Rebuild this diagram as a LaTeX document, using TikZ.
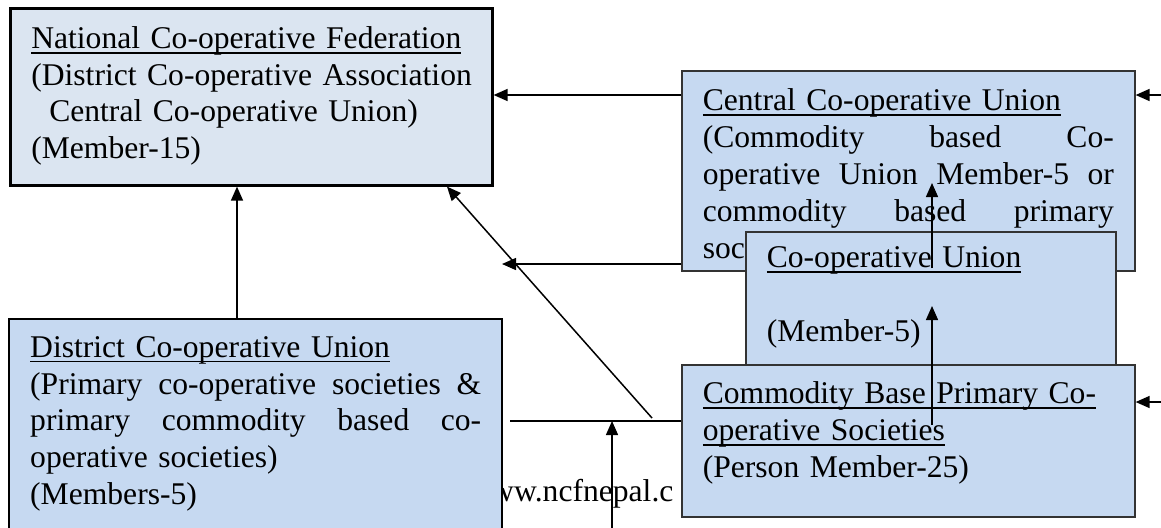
\documentclass[tikz,border=0pt]{standalone}
\usepackage{fontspec}
\setmainfont{Liberation Serif}
\usetikzlibrary{arrows.meta}
\definecolor{natfill}{HTML}{DBE5F1}
\definecolor{boxfill}{HTML}{C6D9F1}
\newcommand\uln[1]{\leavevmode\setbox0=\hbox{#1}\rlap{\rule[-2.6pt]{\wd0}{0.8pt}}\box0}
\newcommand\jline[2]{\leavevmode\hbox to #1{#2}}
\tikzset{
  orgbox/.style={anchor=north west, align=left, inner sep=0pt, inner xsep=10.5pt,
    font=\fontsize{15.8}{18.4}\selectfont, fill=boxfill, draw=black!80, line width=0.8pt},
  arr/.style={line width=0.75pt, -{Triangle[length=7pt,width=6pt]}},
  ln/.style={line width=0.75pt}
}
\begin{document}
\begin{tikzpicture}[x=0.5pt,y=-0.5pt]
\useasboundingbox (0,0) rectangle (1161,527);
\clip (0,0) rectangle (1161,527);
\node[anchor=base west, inner sep=0pt, font=\fontsize{15.8}{18.4}\selectfont] (web) at (468,501) {www.ncfnepal.c};
\node[orgbox, fill=natfill, draw=black, line width=1.3pt, text width=220pt, text height=20pt, text depth=68.5pt] (nat) at (9,7)
  {\uln{National Co-operative Federation}\\
   \mbox{(District Co-operative Association}\\
   \hspace*{9pt}Central Co-operative Union)\\
   (Member-15)};
\node[orgbox, draw=black, line width=1.2pt, text width=225.5pt, text height=19pt, text depth=92pt] (dist) at (8,318)
  {\uln{District Co-operative Union}\\
   \jline{225.5pt}{(Primary\hfill co-operative\hfill societies\hfill \&}\\
   \jline{225.5pt}{primary\hfill commodity\hfill based\hfill co-}\\
   operative societies)\\
   (Members-5)};
\node[orgbox, text width=205.5pt, text height=20pt, text depth=80pt] (cen) at (681,70)
  {\uln{Central Co-operative Union}\\
   \jline{205.5pt}{(Commodity\hfill based\hfill Co-}\\
   \jline{205.5pt}{operative\hfill Union\hfill Member-5\hfill or}\\
   \jline{205.5pt}{commodity\hfill based\hfill primary}\\
   soc};
\node[orgbox, text width=164pt, text height=18pt, text depth=57pt] (coop) at (745,231)
  {\uln{Co-operative Union}\\[18.4pt]
   (Member-5)};
\node[orgbox, text width=205.5pt, text height=19.5pt, text depth=56.5pt] (com) at (681,364)
  {\uln{Commodity Base Primary Co-}\\
   \uln{operative Societies}\\
   (Person Member-25)};
\coordinate (mid) at (502,264);
\coordinate (cut) at (510,421);
\coordinate (diag) at (652,418);
\coordinate (low) at (612,540);
\coordinate (c1) at (932,425);
\coordinate (c2) at (932,306);
\coordinate (c3) at (932,268);
\coordinate (c4) at (932,183);
\coordinate (r1) at (1161,95);
\coordinate (r2) at (1161,402);
\draw[arr] (dist.north -| 237,0) -- (nat.south -| 237,0);
\draw[arr] (cen.west |- 0,95) -- (nat.east |- 0,95);
\draw[arr] (cen.west |- mid) -- (mid);
\draw[ln] (com.west |- cut) -- (cut);
\draw[arr] (diag) -- (nat.south -| 447,0);
\draw[arr] (low) -- (low |- cut);
\draw[arr] (c1) -- (c2);
\draw[arr] (c3) -- (c4);
\draw[arr] (r1) -- (r1 -| cen.east);
\draw[arr] (r2) -- (r2 -| com.east);
\end{tikzpicture}
\end{document}
